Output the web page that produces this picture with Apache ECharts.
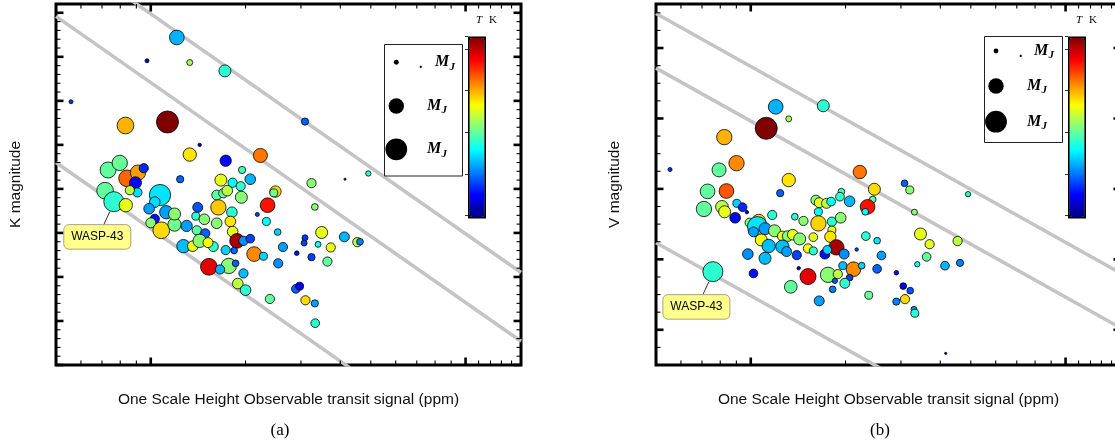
<!DOCTYPE html>
<html><head><meta charset="utf-8">
<script src="https://cdn.jsdelivr.net/npm/echarts@6/dist/echarts.min.js"></script>
<style>html,body{margin:0;padding:0;background:#fff}#c{width:1115px;height:447px}</style>
</head><body><div id="c"></div>
<script>
// ---------------- data: panel (a) K magnitude ----------------
const A_PPM = [121,97.3,133,172,55.8,83.1,113,143,133,173,
223,309,73.2,79.7,84.1,91.1,95,89.4,90.7,85.8,
71.6,76.3,83.3,107,103,98.8,112,103,100,108,
119,130,141,139,148,127,136,140,149,143,
158,152,167,162,170,175,182,193,195,207,
194,164,181,179,162,182,188,197,207,173,
184,213,228,153,177,166,186,197,189,200,
235,249,246,218,233,253,263,254,239,309,
307,291,324,349,340,373,364,324,332,289,
297,310,332,333,124,119,414,491,412,453,462];
const A_KMAG = [5.56,6.09,6.13,6.32,7.02,7.56,7.48,8.00,8.22,8.36,
8.24,7.47,8.57,8.41,8.76,8.63,8.53,8.86,9.08,9.03,
9.04,9.29,9.37,9.14,9.30,9.45,9.53,9.68,9.77,9.94,
9.81,9.84,9.42,9.62,9.69,10.30,10.30,9.94,10.01,10.18,
10.31,10.22,8.80,9.14,9.10,9.04,8.86,8.94,8.57,8.78,
9.19,9.42,9.53,9.74,9.78,9.97,10.18,10.18,10.13,10.39,
10.40,10.48,10.53,10.77,10.75,10.83,10.69,10.92,11.15,11.30,
9.37,9.06,9.09,9.58,9.74,9.98,10.32,10.69,11.50,10.11,
10.23,10.46,10.55,9.99,10.26,10.33,10.65,8.87,9.41,11.27,
11.21,11.53,11.60,12.05,8.78,9.57,8.78,8.65,10.09,10.21,10.20];
const A_MASS = [0.91,0.07,0.15,0.61,0.07,1.18,2.04,0.05,0.75,0.54,
0.83,0.22,1.08,0.99,1.18,0.99,0.36,0.61,0.36,0.36,
1.18,1.69,0.75,1.91,0.48,0.48,0.75,0.36,0.42,1.18,
0.75,0.54,0.42,0.27,0.48,0.75,0.48,0.36,0.36,0.75,
0.42,0.42,0.61,0.42,0.36,0.48,0.36,0.36,0.22,0.48,
0.61,0.99,0.48,0.48,0.48,0.48,0.91,0.36,0.32,0.36,
0.19,0.91,0.27,1.18,0.99,0.36,0.19,0.36,0.48,0.48,
0.91,0.54,0.27,0.07,0.27,0.19,0.36,0.36,0.36,0.15,
0.15,0.09,0.22,0.61,0.15,0.36,0.36,0.36,0.19,0.32,
0.27,0.36,0.22,0.32,0.22,0.61,0.02,0.12,0.42,0.36,0.19];
const A_TEQ = [1145,694,1650,1403,880,2005,2650,650,1897,780,
2134,973,1510,1530,2166,2048,850,760,1230,1704,
1510,1403,1790,1252,1230,1102,1102,800,1596,1919,
1550,1102,940,1403,1596,1166,1790,1489,973,1596,
1403,1833,1790,1510,1510,1704,1317,1403,1450,1145,
1596,1960,1403,1897,1596,1790,2575,1070,908,1210,
973,2091,1210,2435,1596,1145,973,1166,1704,1403,
2349,1919,1560,908,1317,1210,1102,1070,1510,880,
908,800,908,1790,1340,1790,1510,1596,1596,973,
715,1919,1102,1403,973,1596,520,1403,1145,1704,1037];
const A_LABEL_INDEX = 21; // WASP-43

// ---------------- data: panel (b) V magnitude ----------------
const B_PPM = [120,170,132,112,82.4,90.1,79.3,55.4,132,124,
222,72.9,83.7,71.0,81.0,82.6,90.3,94.2,89.2,97.2,
99.2,106,105,111,102,117,119,108,126,131,
136,143,138,147,114,126,130,140,152,158,
158,161,165,174,180,164,164,181,181,193,
194,192,206,179,187,198,172,175,247,244,
235,231,232,252,260,252,217,212,196,225,
176,189,206,199,182,185,152,142,134,102,
97.9,111,165,237,290,308,320,331,346,370,
362,338,414,462,454,490,305,321,309,290,
330,332,416,75.8];
const B_VMAG = [7.67,7.64,8.01,8.28,8.53,9.27,9.46,9.45,9.75,10.12,
9.52,10.07,10.06,10.57,10.51,10.65,10.41,10.52,10.82,10.66,
10.96,10.91,11.07,11.13,11.22,10.74,11.19,11.45,11.34,11.34,
11.30,11.42,10.79,10.91,11.62,11.64,11.78,11.88,11.69,11.76,
11.37,10.32,10.39,10.41,10.36,10.65,10.98,10.93,11.17,10.82,
10.08,10.22,10.35,11.36,11.66,11.85,11.85,11.73,10.01,10.30,
10.51,10.65,11.34,11.47,11.89,12.27,11.72,12.28,12.18,12.18,
12.44,12.42,12.52,12.68,12.85,12.61,12.49,12.25,12.78,12.40,
11.85,11.97,13.18,13.02,12.38,9.84,10.03,10.66,11.28,11.57,
11.93,12.14,12.18,12.10,11.48,10.15,12.76,12.89,13.13,13.20,
13.42,13.53,14.67,12.35];
const B_MASS = [0.91,0.61,0.15,2.04,0.99,0.99,0.83,0.07,0.75,0.22,
0.75,0.91,0.91,0.99,0.68,0.61,0.27,0.32,0.48,0.05,
0.36,0.75,1.69,0.61,0.42,0.36,0.61,0.61,0.42,0.48,
0.48,0.61,0.19,0.36,0.75,0.75,0.42,0.36,0.36,0.27,
0.32,0.42,0.42,0.42,0.32,0.27,0.99,0.36,0.27,0.48,
0.19,0.32,0.48,0.54,1.0,0.42,0.42,0.32,0.61,0.19,
0.91,0.19,0.32,0.19,0.32,0.32,0.05,0.91,0.27,0.19,
0.99,0.36,0.19,0.42,0.19,0.12,1.08,0.05,0.68,0.32,
0.48,0.61,0.42,0.27,0.09,0.19,0.27,0.15,0.61,0.36,
0.32,0.12,0.32,0.22,0.36,0.12,0.19,0.19,0.36,0.22,
0.15,0.27,0.02,1.69];
const B_TEQ = [1145,1403,1650,2650,2005,2091,1510,880,1897,973,
2134,1510,2200,1510,1704,1790,1210,850,780,694,
1596,1919,1252,1102,1102,1403,1596,1833,1790,1596,
1790,1596,1403,1596,1166,1166,1102,908,1833,1403,
1790,1596,1790,1704,1317,1317,1940,1403,1790,1596,
1450,1403,1145,1897,2575,1070,800,1210,1919,1500,
2349,1317,1403,1252,1102,973,908,2091,1166,1210,
1596,1704,908,1403,1037,950,2435,650,1510,800,
1070,1166,1102,1510,800,973,1596,1596,1790,1790,
1510,1340,1145,1037,1704,1403,715,940,1919,1037,
1102,1403,520,1403];
const B_LABEL_INDEX = 103; // WASP-43
const LABEL_TEXT = 'WASP-43';

// constant-SNR guide lines (endpoints)
const A_SNR_LINES = [[[50,3.52],[1500,10.90]],[[50,5.08],[1500,12.46]],[[50,8.40],[1500,15.78]]];
const B_SNR_LINES = [[[50,5.02],[1500,12.40]],[[50,6.57],[1500,13.95]],[[50,11.53],[1500,18.91]]];

// axes
const X_RANGE = [50, 1500];
const A_Y_RANGE = [4.8, 13.0];
const B_Y_RANGE = [4.75, 15.0];
const TEQ_RANGE = [500, 2650];
const X_MAJOR_TICKS = [100, 1000];
const X_MINOR_TICKS = [60,70,80,90,200,300,400,500,600,700,800,900,1100,1200,1300,1400];
const K_MAJOR_TICKS = [5,6,7,8,9,10,11,12,13];
const K_MINOR_TICKS = [5.2,5.4,5.6,5.8,6.2,6.4,6.6,6.8,7.2,7.4,7.6,7.8,8.2,8.4,8.6,8.8,9.2,9.4,9.6,9.8,10.2,10.4,10.6,10.8,11.2,11.4,11.6,11.8,12.2,12.4,12.6,12.8];
const V_MAJOR_TICKS = [6,8,10,12,14];
const V_MINOR_TICKS = [5,5.5,6.5,7,7.5,8.5,9,9.5,10.5,11,11.5,12.5,13,13.5,14.5];
const LEGEND_MASSES = [0.1, 1, 2];
const LEGEND_LABELS = ['.', '', ''];
const X_TITLE = 'One Scale Height Observable transit signal (ppm)';

// ---------------- rendering ----------------
const SANS = '"Liberation Sans", Arial, sans-serif';
const SERIF = '"Liberation Serif", "Times New Roman", serif';
const sizeOf = m => 15.4 * Math.sqrt(m);
const JET = (() => { const a = []; const f = x => Math.max(0, Math.min(1, x));
  for (let i = 0; i <= 40; i++) { const t = i / 40;
    const r = f(1.5 - Math.abs(4*t - 3)), g = f(1.5 - Math.abs(4*t - 2)), b = f(1.5 - Math.abs(4*t - 1));
    a.push('rgb(' + Math.round(r*255) + ',' + Math.round(g*255) + ',' + Math.round(b*255) + ')'); }
  return a; })();

const chart = echarts.init(document.getElementById('c'), null, {renderer: 'canvas'});
const series = [];
function addLines(gi, lines) {
  lines.forEach(seg => series.push({type: 'line', xAxisIndex: gi, yAxisIndex: gi, data: seg, symbol: 'none',
    lineStyle: {color: '#c4c4c4', width: 3.5}, z: 1, silent: true, clip: true, animation: false}));
}
function addTicks(gi, dim, majors, minors, other) {
  const mk = (v, f) => dim === 'x' ? [v, other, f] : [other, v, f];
  const data = majors.map(v => mk(v, 1)).concat(minors.map(v => mk(v, 0)));
  series.push({type: 'custom', xAxisIndex: gi, yAxisIndex: gi, data, z: 3, silent: true,
    encode: {x: 0, y: 1},
    renderItem: (params, api) => {
      const cs = params.coordSys; const major = api.value(2) === 1;
      const len = major ? 7.5 : 4.5;
      const style = {stroke: '#000', lineWidth: major ? 2.6 : 1.1};
      const p = api.coord([api.value(0), api.value(1)]);
      if (dim === 'x') {
        return {type: 'group', children: [
          {type: 'line', shape: {x1: p[0], y1: cs.y + cs.height, x2: p[0], y2: cs.y + cs.height - len}, style},
          {type: 'line', shape: {x1: p[0], y1: cs.y, x2: p[0], y2: cs.y + len}, style}]};
      }
      return {type: 'group', children: [
        {type: 'line', shape: {x1: cs.x, y1: p[1], x2: cs.x + len, y2: p[1]}, style},
        {type: 'line', shape: {x1: cs.x + cs.width, y1: p[1], x2: cs.x + cs.width - len, y2: p[1]}, style}]};
    }});
}
function addScatter(gi, ppm, mag, mass, teq) {
  series.push({type: 'scatter', xAxisIndex: gi, yAxisIndex: gi,
    data: ppm.map((p, i) => [p, mag[i], mass[i], teq[i]]),
    symbolSize: v => sizeOf(v[2]),
    itemStyle: {borderColor: '#000', borderWidth: 0.8, opacity: 1},
    emphasis: {disabled: true}, silent: true, z: 5});
  return series.length - 1;
}
addLines(0, A_SNR_LINES); addLines(1, B_SNR_LINES);
addTicks(0, 'x', X_MAJOR_TICKS, X_MINOR_TICKS, A_Y_RANGE[0]);
addTicks(0, 'y', K_MAJOR_TICKS, K_MINOR_TICKS, X_RANGE[0]);
addTicks(1, 'x', X_MAJOR_TICKS, X_MINOR_TICKS, B_Y_RANGE[0]);
addTicks(1, 'y', V_MAJOR_TICKS, V_MINOR_TICKS, X_RANGE[0]);
const sA = addScatter(0, A_PPM, A_KMAG, A_MASS, A_TEQ);
const sB = addScatter(1, B_PPM, B_VMAG, B_MASS, B_TEQ);

const hidden = {axisLine: {show: false}, axisTick: {show: false}, axisLabel: {show: false}, splitLine: {show: false}};
const nameStyle = {fontFamily: SANS, fontSize: 15.5, color: '#111'};
function xAx(gi) { return Object.assign({gridIndex: gi, type: 'log', logBase: 10, min: X_RANGE[0], max: X_RANGE[1],
  name: X_TITLE, nameLocation: 'middle', nameGap: 27, nameTextStyle: nameStyle}, hidden); }
function yAx(gi, rng, name, gap) { return Object.assign({gridIndex: gi, type: 'value', inverse: true, min: rng[0], max: rng[1],
  name, nameLocation: 'middle', nameGap: gap, nameRotate: 90, nameTextStyle: nameStyle}, hidden); }
function cbY(gi) { return {gridIndex: gi, type: 'value', min: TEQ_RANGE[0], max: TEQ_RANGE[1], interval: 500, position: 'right', z: 10,
  axisLine: {show: false}, axisTick: {show: true, inside: true, length: 3, lineStyle: {color: '#333', width: 1}},
  axisLabel: {show: false}, splitLine: {show: false}}; }
function vm(si, left) { return {type: 'continuous', seriesIndex: si, dimension: 3, min: TEQ_RANGE[0], max: TEQ_RANGE[1],
  calculable: false, left, top: 36.5, itemWidth: 15, itemHeight: 179, padding: 0, text: null,
  borderColor: '#000', borderWidth: 3, inRange: {color: JET}, hoverLink: false}; }
const gbase = {show: true, borderColor: '#000', borderWidth: 3, backgroundColor: 'rgba(0,0,0,0)', containLabel: false, outerBoundsMode: 'none'};

chart.setOption({
  animation: false,
  backgroundColor: '#fff',
  grid: [Object.assign({left: 56, top: 4, width: 465, height: 361}, gbase),
         Object.assign({left: 656, top: 4, width: 465, height: 361}, gbase),
         {left: 468, top: 36.5, width: 15, height: 179, show: false, outerBoundsMode: 'none'},
         {left: 1068, top: 36.5, width: 15, height: 179, show: false, outerBoundsMode: 'none'}],
  xAxis: [xAx(0), xAx(1), {gridIndex: 2, type: 'value', show: false}, {gridIndex: 3, type: 'value', show: false}],
  yAxis: [yAx(0, A_Y_RANGE, 'K magnitude', 32), yAx(1, B_Y_RANGE, 'V magnitude', 33), cbY(2), cbY(3)],
  visualMap: [vm(sA, 468), vm(sB, 1068)],
  series
});

// ---------------- annotations, legends, captions ----------------
function text(x, y, s, font, align) {
  return {type: 'text', x, y, z: 30, silent: true, style: {text: s, font, fill: '#000',
    align: align || 'left', textAlign: align || 'left', verticalAlign: 'middle', textVerticalAlign: 'middle'}};
}
const mFont = 'italic bold 16px ' + SERIF, jFont = 'italic bold 11px ' + SERIF;
function sizeLegend(box, cx, rows, xDot, xM1, xM) {
  const els = [{type: 'rect', z: 25, silent: true, shape: box, style: {fill: '#fff', stroke: '#222', lineWidth: 1}}];
  LEGEND_MASSES.forEach((m, i) => {
    const y = rows[i];
    els.push({type: 'circle', z: 30, silent: true, shape: {cx, cy: y, r: sizeOf(m) / 2}, style: {fill: '#000'}});
    const mx = LEGEND_LABELS[i] ? xM1 : xM;
    if (LEGEND_LABELS[i]) els.push(text(xDot, y + 2, LEGEND_LABELS[i], 'bold 14px ' + SERIF));
    els.push(text(mx, y, 'M', mFont));
    els.push(text(mx + 14.5, y + 4.5, 'J', jFont));
  });
  return els;
}
function wasp(gi, ppm, mag) {
  const p = chart.convertToPixel({gridIndex: gi}, [ppm, mag]);
  return [
    {type: 'line', z: 20, silent: true, shape: {x1: p[0] - 10, y1: p[1] + 23, x2: p[0] - 4, y2: p[1] + 10}, style: {stroke: '#333', lineWidth: 1}},
    {type: 'rect', z: 20, silent: true, shape: {x: p[0] - 50, y: p[1] + 23, width: 67, height: 24.5, r: 5}, style: {fill: '#ffff8c', stroke: '#a8a47a', lineWidth: 1}},
    text(p[0] - 16.5, p[1] + 35.5, LABEL_TEXT, '12px ' + SANS, 'center')
  ];
}
const els = [].concat(
  sizeLegend({x: 384.5, y: 44.5, width: 78, height: 131.5}, 396.3, [62.3, 106, 149.3], 419, 435, 427),
  sizeLegend({x: 984.5, y: 36.5, width: 78, height: 106}, 996, [51, 86, 121.7], 1019, 1034, 1027),
  [text(476, 20, 'T', 'italic 11px ' + SERIF), text(489, 20, 'K', '11px ' + SERIF),
   text(1076, 20, 'T', 'italic 11px ' + SERIF), text(1089, 20, 'K', '11px ' + SERIF),
   text(280, 431, '(a)', '17px ' + SERIF, 'center'), text(880, 431, '(b)', '17px ' + SERIF, 'center')],
  wasp(0, A_PPM[A_LABEL_INDEX], A_KMAG[A_LABEL_INDEX]),
  wasp(1, B_PPM[B_LABEL_INDEX], B_VMAG[B_LABEL_INDEX])
);
chart.setOption({graphic: [{elements: els}]});
</script></body></html>
